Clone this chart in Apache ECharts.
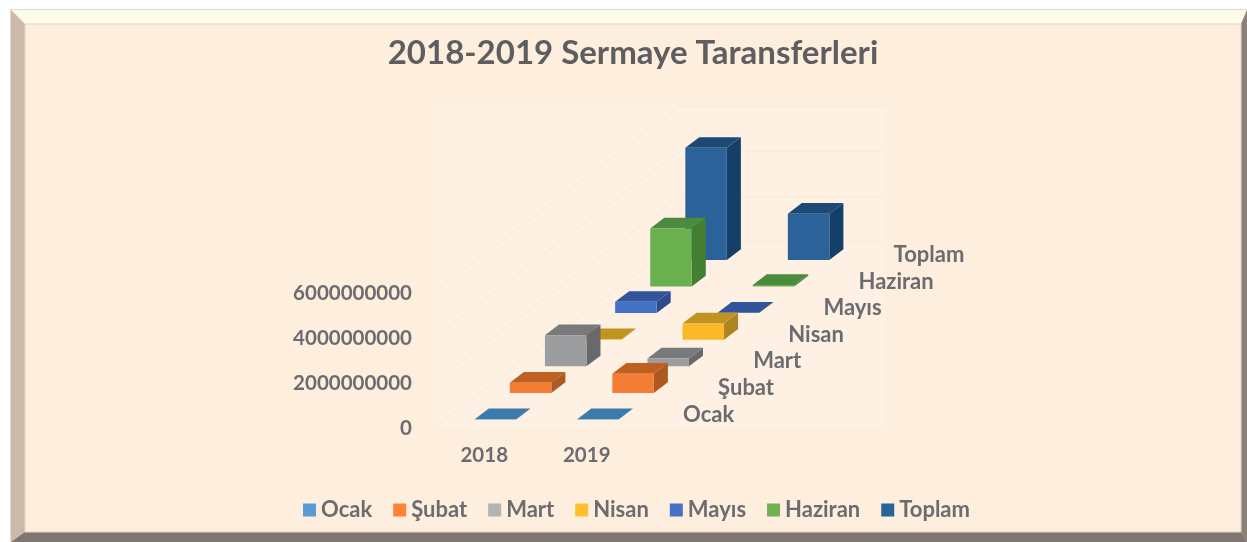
<!DOCTYPE html>
<html>
<head>
<meta charset="utf-8">
<title>2018-2019 Sermaye Taransferleri</title>
<script src="https://cdn.jsdelivr.net/npm/echarts@6/dist/echarts.min.js"></script>
<style>
  html, body { margin: 0; padding: 0; background: #fff; }
  #chart { width: 1247px; height: 542px; }
</style>
</head>
<body>
<div id="chart"></div>
<script>
  const years = ['2018', '2019']
  const months = ['Ocak', 'Şubat', 'Mart', 'Nisan', 'Mayıs', 'Haziran', 'Toplam']
  const valueTicks = [0, 2000000000, 4000000000, 6000000000]

  // one array per month, [2018, 2019]
  const ocak = [10000000, 10000000]
  const subat = [450000000, 850000000]
  const mart = [1380000000, 350000000]
  const nisan = [20000000, 720000000]
  const mayis = [500000000, 20000000]
  const haziran = [2580000000, 70000000]
  const toplam = [4980000000, 2050000000]
  const monthValues = [ocak, subat, mart, nisan, mayis, haziran, toplam]

  const legendColors = ['#5b9bd5', '#ff8238', '#b3b3b3', '#ffc02b', '#4472c4', '#70b150', '#27649b']
  const frontColors = ['#4a88bd', '#f57c35', '#9b9d9f', '#fbb829', '#4472c4', '#6ab04f', '#2a6299']
  const topColors = ['#3e7bad', '#bf6021', '#77797b', '#c09420', '#32549a', '#4c8a3d', '#1c4a75']
  const sideColors = ['#35699a', '#ac5a22', '#67696b', '#ab8521', '#2d4b8b', '#437e33', '#133f68']

  const textColor = '#6b6b70'
  const fontFamily = 'Lato'

  // oblique projection of the depth (month) axis
  const depthX = 35.1
  const depthY = -26.6
  const depthRows = months.length
  const barWidthRatio = 0.405
  const barDepthRatio = 0.4
  const barStartRatio = 0.32

  function barItem(row) {
    return function (params, api) {
      const base = api.coord([api.value(0), 0])
      const top = api.coord([api.value(0), api.value(1)])
      const w = api.size([1, 0])[0] * barWidthRatio
      const ox = depthX * (row + barStartRatio)
      const oy = depthY * (row + barStartRatio)
      const dx = depthX * barDepthRatio
      const dy = depthY * barDepthRatio
      const x0 = base[0] + ox - w / 2
      const x1 = x0 + w
      const y0 = base[1] + oy
      const y1 = top[1] + oy
      const front = [[x0, y0], [x1, y0], [x1, y1], [x0, y1]]
      const side = [[x1, y0], [x1 + dx, y0 + dy], [x1 + dx, y1 + dy], [x1, y1]]
      const roof = [[x0, y1], [x1, y1], [x1 + dx, y1 + dy], [x0 + dx, y1 + dy]]
      return {
        type: 'group',
        children: [
          { type: 'polygon', shape: { points: side }, style: { fill: sideColors[row] } },
          { type: 'polygon', shape: { points: roof }, style: { fill: topColors[row] } },
          { type: 'polygon', shape: { points: front }, style: { fill: frontColors[row] } }
        ]
      }
    }
  }

  const barSeries = months.map(function (name, row) {
    return {
      name: name,
      type: 'custom',
      z: 10 + depthRows - row,
      itemStyle: { color: legendColors[row] },
      encode: { x: 0, y: 1 },
      data: monthValues[row].map(function (v, i) { return [i, v] }),
      renderItem: barItem(row)
    }
  })

  // side wall and back wall lines for each value tick
  const wallSeries = {
    type: 'custom',
    silent: true,
    z: 2,
    encode: { x: 0, y: 1 },
    data: valueTicks.map(function (v) { return [0, v] }),
    renderItem: function (params, api) {
      const p = api.coord([0, api.value(1)])
      const band = api.size([1, 0])[0]
      const x0 = p[0] - band / 2
      const xb = x0 + depthX * depthRows
      const yb = p[1] + depthY * depthRows
      return {
        type: 'polyline',
        shape: { points: [[x0, p[1]], [xb, yb], [xb + band * 2, yb]] },
        style: { fill: null, stroke: '#f6eadc', lineWidth: 1 }
      }
    }
  }

  // month names along the right side of the floor
  const depthLabelSeries = {
    type: 'custom',
    silent: true,
    z: 30,
    encode: { x: 0, y: 1 },
    data: months.map(function (m, i) { return [1, 0, i] }),
    renderItem: function (params, api) {
      const p = api.coord([1, 0])
      const band = api.size([1, 0])[0]
      const row = api.value(2)
      return {
        type: 'text',
        style: {
          x: p[0] + band / 2 + 45 + depthX * row,
          y: p[1] - 13.5 + depthY * row,
          text: months[row],
          fill: textColor,
          font: 'bold 22px ' + fontFamily,
          align: 'left',
          verticalAlign: 'middle'
        }
      }
    }
  }

  const W = 1247
  const H = 542
  const inL = 25
  const inT = 24
  const inR = 1241
  const inB = 532

  const chart = echarts.init(document.getElementById('chart'), null, { renderer: 'canvas' })
  chart.setOption({
    animation: false,
    backgroundColor: '#ffffff',
    title: {
      text: '2018-2019 Sermaye Taransferleri',
      left: 628,
      top: 32,
      textAlign: 'center',
      textStyle: { color: '#5e5e60', fontFamily: fontFamily, fontWeight: 'bold', fontSize: 33 }
    },
    legend: {
      data: months,
      left: 298,
      top: 494,
      icon: 'rect',
      itemWidth: 13,
      itemHeight: 13,
      itemGap: 21,
      textStyle: { color: textColor, fontFamily: fontFamily, fontWeight: 'bold', fontSize: 22 }
    },
    grid: { left: 433, top: 293, width: 205, height: 135 },
    xAxis: {
      type: 'category',
      data: years,
      axisLine: { show: false },
      axisTick: { show: false },
      axisLabel: { color: textColor, fontFamily: fontFamily, fontWeight: 'bold', fontSize: 20.5, margin: 17 }
    },
    yAxis: {
      type: 'value',
      min: 0,
      max: 6000000000,
      interval: 2000000000,
      axisLine: { show: false },
      axisTick: { show: false },
      splitLine: { show: false },
      axisLabel: {
        color: textColor,
        fontFamily: fontFamily,
        fontWeight: 'bold',
        fontSize: 20.5,
        margin: 21,
        formatter: function (v) { return String(v) }
      }
    },
    graphic: {
      elements: [
        { type: 'rect', z: -10, silent: true, shape: { x: 10, y: 9, width: W - 10, height: H - 9 }, style: { fill: '#dedbd8' } },
        { type: 'polygon', z: -9, silent: true, shape: { points: [[11, 10], [W, 10], [inR, inT], [inL, inT]] }, style: { fill: '#fdfbe9' } },
        { type: 'polygon', z: -9, silent: true, shape: { points: [[11, 10], [inL, inT], [inL, inB], [11, H]] }, style: { fill: '#ccb9a9' } },
        { type: 'polygon', z: -9, silent: true, shape: { points: [[W, 10], [W, H], [inR, inB], [inR, inT]] }, style: { fill: '#8c807a' } },
        { type: 'polygon', z: -9, silent: true, shape: { points: [[11, H], [inL, inB], [inR, inB], [W, H]] }, style: { fill: '#7f7672' } },
        { type: 'rect', z: -8, silent: true, shape: { x: inL, y: inT, width: inR - inL, height: inB - inT }, style: { fill: '#feeedd', stroke: '#e4d5c5', lineWidth: 1 } },
        { type: 'rect', z: -7, silent: true, shape: { x: 433, y: 106, width: 452, height: 322 }, style: { fill: '#fef0e2' } }
      ]
    },
    series: [wallSeries].concat(barSeries, [depthLabelSeries])
  })
</script>
</body>
</html>
